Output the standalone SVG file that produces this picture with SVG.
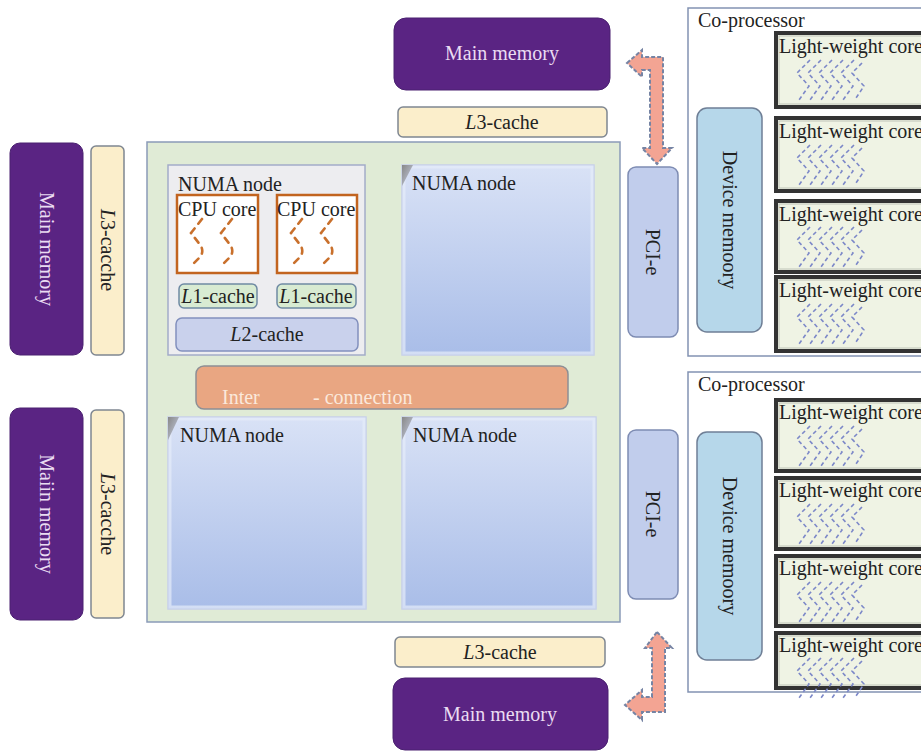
<svg xmlns="http://www.w3.org/2000/svg" xmlns:xlink="http://www.w3.org/1999/xlink" width="921" height="752" viewBox="0 0 921 752">
<defs>
<style>
text{font-family:"Liberation Serif","Times New Roman",serif;font-size:20px;fill:#222}
.mm{fill:#5a2483;stroke:#4a2070;stroke-width:1}
.mmt{fill:#eadcf2}
.l3{fill:#fbeecb;stroke:#7f8791;stroke-width:1.5}
.numa{fill:url(#numaG);stroke:#c6d0ea;stroke-width:1.5}
.bev{fill:none;stroke:#e6ecfa;stroke-width:3;opacity:0.7}
.cpu{fill:#fff;stroke:#c2641f;stroke-width:2.5}
.l1{fill:#d8ebd2;stroke:#6f8aa3;stroke-width:1.5}
.pci{fill:#c1cdec;stroke:#7e8cb3;stroke-width:1.5}
.dev{fill:#b6d7ea;stroke:#6f7f96;stroke-width:1.5}
.cop{fill:#fff;stroke:#8292b2;stroke-width:1.5}
.lw{fill:#eff3e4;stroke:#333;stroke-width:4}
.lwi{fill:none;stroke:#bfc4b8;stroke-width:1}
.sq{fill:none;stroke:#7c88c8;stroke-width:1.6;stroke-dasharray:4 3}
.cq{fill:none;stroke:#c9702c;stroke-width:2.6;stroke-dasharray:6 6;stroke-linecap:round}
.arr{fill:#f3a493;stroke:#7684a4;stroke-width:2;stroke-dasharray:4 2}
.it{font-style:italic}
.ic{fill:#fbe9dc}
</style>
<linearGradient id="numaG" x1="0" y1="0" x2="0" y2="1">
<stop offset="0" stop-color="#d9e2f6"/>
<stop offset="1" stop-color="#a9bde8"/>
</linearGradient>
<linearGradient id="triG" x1="0" y1="0" x2="1" y2="1">
<stop offset="0" stop-color="#888"/>
<stop offset="1" stop-color="#c8cfe4"/>
</linearGradient>
<g id="lwsq">
<path class="sq" d="M14,0 L1,13 L13,26 L3,40"/>
<path class="sq" d="M25,0 L12,13 L24,26 L14,40"/>
<path class="sq" d="M36,0 L23,13 L35,26 L25,40"/>
<path class="sq" d="M47,0 L34,13 L46,26 L36,40"/>
<path class="sq" d="M58,0 L45,13 L57,26 L47,40"/>
<path class="sq" d="M66,3 L56,13 L68,26 L60,38"/>
</g>
<g id="cpusq">
<path class="cq" d="M12,0 L1,14 L11,27 Q14,33 10,38 L2,46"/>
<path class="cq" d="M42,0 L31,14 L41,27 Q44,33 40,38 L32,46"/>
</g>
</defs>

<g id="connectors">
<path class="arr" d="M627,63 L642,50 L642,57 L663,57 L663,148 L672,148 L657,164 L642,148 L650,148 L650,70 L642,70 L642,77 Z"/>
<path class="arr" d="M657,632 L672,648 L665,648 L665,712 L642,712 L642,720 L625,705 L642,690 L642,697 L652,697 L652,648 L645,648 Z"/>
</g>

<g id="main-memory-top"><rect class="mm" x="394" y="18" width="216" height="72" rx="12"/><text class="mmt" x="502" y="60" text-anchor="middle">Main memory</text></g>
<g id="l3-top"><rect class="l3" x="398" y="107" width="209" height="30" rx="5"/><text x="502" y="129" text-anchor="middle"><tspan class="it">L</tspan>3-cache</text></g>

<g id="left-mem-top"><rect class="mm" x="10" y="143" width="73" height="212" rx="10"/><text class="mmt" transform="translate(40,249) rotate(90)" text-anchor="middle">Main memory</text></g>
<g id="left-l3-top"><rect class="l3" x="91" y="146" width="33" height="209" rx="5"/><text transform="translate(101,250) rotate(90)" text-anchor="middle"><tspan class="it">L</tspan>3-cacche</text></g>
<g id="left-mem-bot"><rect class="mm" x="10" y="408" width="73" height="212" rx="10"/><text class="mmt" transform="translate(40,514) rotate(90)" text-anchor="middle">Maiin memory</text></g>
<g id="left-l3-bot"><rect class="l3" x="91" y="410" width="33" height="208" rx="5"/><text transform="translate(101,514) rotate(90)" text-anchor="middle"><tspan class="it">L</tspan>3-cacche</text></g>

<g id="processor">
<rect x="147" y="142" width="473" height="480" fill="#e0ebd6" stroke="#8a9bb8" stroke-width="1.5"/>
</g>

<g id="numa-tl">
<rect x="168" y="165" width="197" height="190" fill="#ededf0" stroke="#a3acc9" stroke-width="1.5"/>
<text x="178" y="191">NUMA node</text>
<rect class="cpu" x="177" y="195" width="81" height="78"/>
<text x="178" y="216">CPU core</text>
<use xlink:href="#cpusq" x="190" y="219"/>
<rect class="cpu" x="277" y="195" width="80" height="78"/>
<text x="277" y="216">CPU core</text>
<use xlink:href="#cpusq" x="290" y="219"/>
<rect class="l1" x="179" y="284" width="78" height="24" rx="5"/>
<text x="218" y="303" text-anchor="middle"><tspan class="it">L</tspan>1-cache</text>
<rect class="l1" x="277" y="284" width="79" height="24" rx="5"/>
<text x="316" y="303" text-anchor="middle"><tspan class="it">L</tspan>1-cache</text>
<rect x="176" y="318" width="182" height="33" rx="6" fill="#c9d1ec" stroke="#8290bd" stroke-width="1.5"/>
<text x="267" y="341" text-anchor="middle"><tspan class="it">L</tspan>2-cache</text>
</g>

<g id="numa-tr"><rect class="numa" x="402" y="165" width="192" height="190"/><rect class="bev" x="404" y="167" width="188" height="186"/><polygon points="402,165 413,165 402,186" fill="url(#triG)"/><text x="412" y="190">NUMA node</text></g>

<g id="interconnect"><rect x="196" y="366" width="372" height="43" rx="8" fill="#e9a682" stroke="#8d8f95" stroke-width="1.5"/><text class="ic" x="222" y="404">Inter</text><text class="ic" x="313" y="404">- connection</text></g>

<g id="numa-bl"><rect class="numa" x="168" y="417" width="198" height="192"/><rect class="bev" x="170" y="419" width="194" height="188"/><polygon points="168,417 179,417 168,440" fill="url(#triG)"/><text x="180" y="442">NUMA node</text></g>
<g id="numa-br"><rect class="numa" x="402" y="417" width="194" height="192"/><rect class="bev" x="404" y="419" width="190" height="188"/><polygon points="402,417 413,417 402,440" fill="url(#triG)"/><text x="413" y="442">NUMA node</text></g>

<g id="pci-top"><rect class="pci" x="628" y="167" width="50" height="170" rx="8"/><text transform="translate(646,252) rotate(90)" text-anchor="middle">PCI-e</text></g>
<g id="pci-bot"><rect class="pci" x="628" y="430" width="50" height="169" rx="8"/><text transform="translate(646,514) rotate(90)" text-anchor="middle">PCI-e</text></g>

<g id="coproc-top">
<rect class="cop" x="688" y="8" width="245" height="348"/>
<text x="698" y="27">Co-processor</text>
<rect class="dev" x="697" y="108" width="65" height="224" rx="10"/>
<text transform="translate(723,220) rotate(90)" text-anchor="middle">Device memoory</text>
<rect class="lw" x="776" y="33" width="160" height="74"/><rect class="lwi" x="779" y="36" width="160" height="68"/>
<text x="779" y="53">Light-weight core</text><use xlink:href="#lwsq" x="796" y="60"/>
<rect class="lw" x="776" y="118" width="160" height="73"/><rect class="lwi" x="779" y="121" width="160" height="67"/>
<text x="779" y="138">Light-weight core</text><use xlink:href="#lwsq" x="796" y="145"/>
<rect class="lw" x="776" y="201" width="160" height="71"/><rect class="lwi" x="779" y="204" width="160" height="65"/>
<text x="779" y="221">Light-weight core</text><use xlink:href="#lwsq" x="796" y="227"/>
<rect class="lw" x="776" y="277" width="160" height="74"/><rect class="lwi" x="779" y="280" width="160" height="68"/>
<text x="779" y="297">Light-weight core</text><use xlink:href="#lwsq" x="796" y="304"/>
</g>

<g id="coproc-bot">
<rect class="cop" x="688" y="372" width="245" height="320"/>
<text x="698" y="391">Co-processor</text>
<rect class="dev" x="697" y="432" width="65" height="228" rx="10"/>
<text transform="translate(723,546) rotate(90)" text-anchor="middle">Device memoory</text>
<rect class="lw" x="776" y="400" width="160" height="71"/><rect class="lwi" x="779" y="403" width="160" height="65"/>
<text x="779" y="419">Light-weight core</text><use xlink:href="#lwsq" x="796" y="426"/>
<rect class="lw" x="776" y="478" width="160" height="71"/><rect class="lwi" x="779" y="481" width="160" height="65"/>
<text x="779" y="497">Light-weight core</text><use xlink:href="#lwsq" x="796" y="504"/>
<rect class="lw" x="776" y="556" width="160" height="70"/><rect class="lwi" x="779" y="559" width="160" height="64"/>
<text x="779" y="575">Light-weight core</text><use xlink:href="#lwsq" x="796" y="582"/>
<rect class="lw" x="776" y="633" width="160" height="55"/><rect class="lwi" x="779" y="636" width="160" height="49"/>
<text x="779" y="652">Light-weight core</text><use xlink:href="#lwsq" x="796" y="658"/>
</g>

<g id="l3-bot"><rect class="l3" x="395" y="637" width="210" height="30" rx="5"/><text x="500" y="659" text-anchor="middle"><tspan class="it">L</tspan>3-cache</text></g>
<g id="main-memory-bot"><rect class="mm" x="393" y="678" width="215" height="72" rx="12"/><text class="mmt" x="500" y="721" text-anchor="middle">Main memory</text></g>
</svg>
